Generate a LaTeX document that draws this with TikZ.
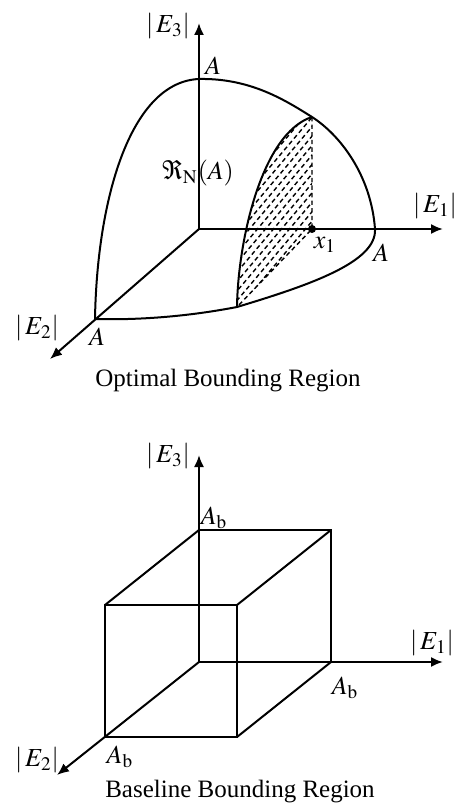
\documentclass[tikz,border=0pt]{standalone}
\usepackage{mathptmx}
\usepackage{fontspec}
\setmainfont{Liberation Serif}
\usetikzlibrary{arrows.meta}

\begin{document}
\begin{tikzpicture}[
        x=0.5pt, y=-0.5pt,
        axis/.style={line width=1pt, -{Latex[length=6pt,width=5pt]}},
        edge/.style={line width=1pt},
        hatch_line/.style={line width=0.7pt, dash pattern=on 2.2pt off 1.6pt},
        axis_label/.style={font=\fontsize{13}{15}\selectfont},
        caption/.style={font=\fontsize{12.5}{15}\selectfont}
    ]
    \useasboundingbox (0,0) rectangle (468,807);

    % Optimal Bounding Region (oben)
    \coordinate (o1) at (199,229);
    \coordinate (e3a) at (199,23);
    \coordinate (e1a) at (443,229);
    \coordinate (e2a) at (50,359);
    \coordinate (a3) at (199,79);
    \coordinate (a1) at (375,229);
    \coordinate (a2) at (95,319);
    \coordinate (top) at (312,117);
    \coordinate (bot) at (237,307);
    \coordinate (x1) at (312,229);

    % schraffierte Fläche
    \begin{scope}
        \clip (bot) .. controls (238,240) and (262,133) .. (top) -- (x1) -- cycle;
        \foreach \k in {20,28,...,340}
            \draw[hatch_line] (\k,330) -- ++(220,-260);
    \end{scope}
    \draw[hatch_line] (top) -- (x1) -- (bot);
    \draw[edge] (bot) .. controls (238,240) and (262,133) .. (top);

    % Rand der Region
    \draw[edge] (a2) .. controls (97,200) and (130,82) .. (a3)
        .. controls (250,78) and (285,100) .. (top)
        .. controls (340,135) and (371,175) .. (a1)
        .. controls (377,262) and (310,285) .. (bot)
        .. controls (180,318) and (130,320) .. (a2);

    % Achsen
    \draw[axis] (o1) -- (e3a);
    \draw[axis] (o1) -- (e1a);
    \draw[axis] (o1) -- (e2a);
    \fill (x1) circle (2pt);

    \node[axis_label] (l_e3a) at (168,26) {$|\,E_3|$};
    \node[axis_label] (l_e1a) at (435,206) {$|\,E_1|$};
    \node[axis_label] (l_e2a) at (37,328) {$|\,E_2|$};
    \node[axis_label] (l_a3) at (213,66) {$A$};
    \node[axis_label] (l_a1) at (381,253) {$A$};
    \node[axis_label] (l_a2) at (97,337) {$A$};
    \node[axis_label] (l_x1) at (325,245) {$x_1$};
    \node[axis_label] (l_reg) at (198,173) {$\Re_{\mathrm{N}}(A)$};
    \node[caption] (cap_opt) at (228,381) {Optimal Bounding Region};

    % Baseline Bounding Region (unten)
    \coordinate (o2) at (199,662);
    \coordinate (e3b) at (199,455);
    \coordinate (e1b) at (443,662);
    \coordinate (e2b) at (57,775);
    \coordinate (bk1) at (199,530);
    \coordinate (bk2) at (331,530);
    \coordinate (bk3) at (331,662);
    \coordinate (fr1) at (105,605);
    \coordinate (fr2) at (237,605);
    \coordinate (fr3) at (237,737);
    \coordinate (fr4) at (105,737);

    % Würfel
    \draw[edge] (bk1) -- (bk2) -- (bk3);
    \draw[edge] (fr1) -- (fr2) -- (fr3) -- (fr4) -- cycle;
    \draw[edge] (bk1) -- (fr1);
    \draw[edge] (bk2) -- (fr2);
    \draw[edge] (bk3) -- (fr3);

    % Achsen
    \draw[axis] (o2) -- (e3b);
    \draw[axis] (o2) -- (e1b);
    \draw[axis] (o2) -- (e2b);

    \node[axis_label] (l_e3b) at (168,456) {$|\,E_3|$};
    \node[axis_label] (l_e1b) at (432,643) {$|\,E_1|$};
    \node[axis_label] (l_e2b) at (37,760) {$|\,E_2|$};
    \node[axis_label] (l_ab3) at (214,518) {$A_{\mathrm{b}}$};
    \node[axis_label] (l_ab1) at (345,688) {$A_{\mathrm{b}}$};
    \node[axis_label] (l_ab2) at (120,757) {$A_{\mathrm{b}}$};
    \node[caption] (cap_base) at (240,792) {Baseline Bounding Region};
\end{tikzpicture}
\end{document}
